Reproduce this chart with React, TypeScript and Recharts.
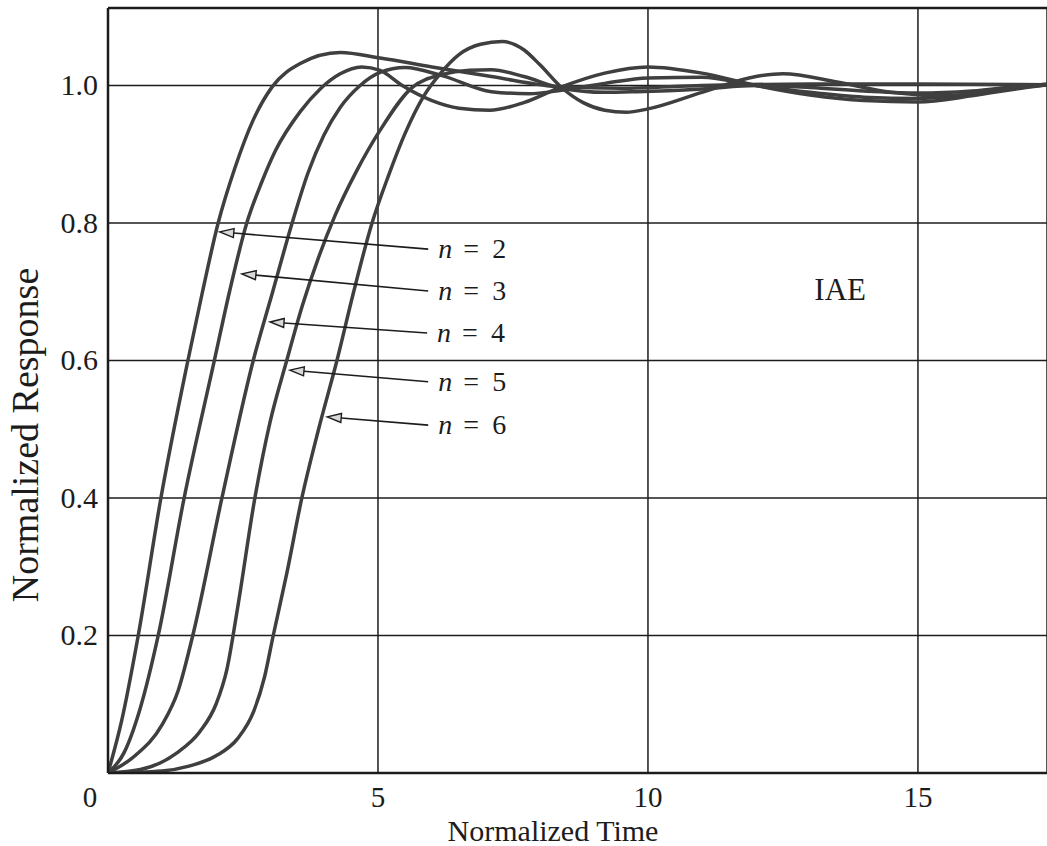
import React from "react";
import {
  LineChart,
  Line,
  XAxis,
  YAxis,
  CartesianGrid,
  ReferenceLine,
  ReferenceDot,
} from "recharts";

// normalized time (t) and response (y), one pair of arrays per order
const tN2 = [0, 0.25, 0.56, 0.98, 1.48, 1.75, 2.04, 2.35, 2.69, 3.04, 3.56, 4.3, 5.04, 6.0, 7.1, 8.4, 9.5, 11, 13, 15, 17.4];
const yN2 = [0, 0.075, 0.2, 0.4, 0.6, 0.7, 0.8, 0.88, 0.95, 0.998, 1.032, 1.048, 1.04, 1.027, 1.013, 0.998, 0.996, 1.0, 1.002, 1.002, 1.001];

const tN3 = [0, 0.3, 0.6, 0.93, 1.41, 1.97, 2.25, 2.57, 2.85, 3.1, 3.56, 3.93, 4.3, 4.7, 5.04, 5.45, 6.0, 6.5, 7.07, 7.7, 8.4, 9.2, 10, 11, 12, 13, 14, 15, 16, 17, 17.4];
const yN3 = [0, 0.03, 0.095, 0.2, 0.4, 0.6, 0.7, 0.8, 0.86, 0.905, 0.962, 0.995, 1.017, 1.027, 1.022, 1.0, 0.978, 0.967, 0.964, 0.975, 0.998, 1.018, 1.027, 1.018, 1.0, 0.986, 0.978, 0.976, 0.985, 0.997, 1.001];

const tN4 = [0, 0.5, 1.0, 1.3, 1.57, 2.11, 2.69, 3.05, 3.41, 3.7, 4.0, 4.3, 4.67, 5.04, 5.5, 6.2, 7.1, 7.8, 8.4, 9.2, 10, 11, 12, 13, 14, 15, 16, 17, 17.4];
const yN4 = [0, 0.025, 0.07, 0.12, 0.2, 0.4, 0.6, 0.7, 0.8, 0.872, 0.928, 0.968, 1.0, 1.019, 1.026, 1.014, 0.991, 0.988, 0.993, 1.003, 1.011, 1.012, 1.0, 0.99, 0.983, 0.981, 0.988, 0.998, 1.001];

const tN5 = [0, 0.6, 1.27, 1.7, 2.0, 2.2, 2.4, 2.72, 3.0, 3.31, 3.6, 3.9, 4.2, 4.6, 5.04, 5.63, 6.2, 6.7, 7.1, 7.7, 8.4, 9.2, 9.8, 11, 12, 13, 14, 15, 16, 17, 17.4];
const yN5 = [0, 0.005, 0.029, 0.06, 0.1, 0.15, 0.24, 0.4, 0.51, 0.6, 0.68, 0.75, 0.81, 0.875, 0.935, 0.997, 1.016, 1.022, 1.023, 1.013, 0.996, 0.99, 0.991, 0.995, 1.0, 0.997, 0.992, 0.989, 0.992, 1.0, 1.002];

const tN6 = [0, 1.0, 1.5, 2.0, 2.4, 2.7, 2.9, 3.06, 3.31, 3.59, 3.9, 4.24, 4.55, 4.89, 5.2, 5.5, 5.85, 6.15, 6.5, 6.9, 7.3, 7.7, 8.0, 8.4, 8.8, 9.2, 9.6, 10, 11, 12, 12.5, 13.5, 14.5, 15.5, 16.5, 17.4];
const yN6 = [0, 0.003, 0.01, 0.025, 0.05, 0.09, 0.14, 0.2, 0.29, 0.4, 0.5, 0.6, 0.7, 0.8, 0.87, 0.93, 0.985, 1.017, 1.045, 1.06, 1.064, 1.052, 1.03, 0.997, 0.975, 0.964, 0.961, 0.966, 0.99, 1.013, 1.017, 1.005, 0.99, 0.985, 0.994, 1.002];

const xTicks = [0, 5, 10, 15];
const yTicks = [0.2, 0.4, 0.6, 0.8, 1.0];

// arrow annotations: label, tail (t, y) near the text, tip (t, y) on the curve
const noteLabels = ["2", "3", "4", "5", "6"];
const noteTail = [
  [5.93, 0.762],
  [5.93, 0.701],
  [5.91, 0.64],
  [5.93, 0.569],
  [5.93, 0.506],
];
const noteTip = [
  [2.07, 0.787],
  [2.48, 0.726],
  [3.0, 0.656],
  [3.37, 0.586],
  [4.06, 0.518],
];

const X_MAX = 17.39;
const Y_MAX = 1.1127;
const FONT = "'Liberation Serif', 'Times New Roman', serif";
const CURVE = "#3f3f3f";
const INK = "#1c1c1c";

const zip = (ts: number[], ys: number[]) => ts.map((t, i) => ({ t, y: ys[i] }));

const curves = [
  { key: "n2", data: zip(tN2, yN2) },
  { key: "n3", data: zip(tN3, yN3) },
  { key: "n4", data: zip(tN4, yN4) },
  { key: "n5", data: zip(tN5, yN5) },
  { key: "n6", data: zip(tN6, yN6) },
];

const XTick = (props: any) => {
  const { x, y, payload } = props;
  const dx = payload.value === 0 ? -18 : 0;
  return (
    <text x={x + dx} y={y + 34} textAnchor="middle" fontFamily={FONT} fontSize={29} fill={INK}>
      {payload.value}
    </text>
  );
};

const YTick = (props: any) => {
  const { x, y, payload } = props;
  return (
    <text x={x - 10} y={y + 10} textAnchor="end" fontFamily={FONT} fontSize={30} fill={INK}>
      {payload.value.toFixed(1)}
    </text>
  );
};

const arrowShape = (label: string) => (props: any) => {
  const { x1, y1, x2, y2 } = props;
  const ang = Math.atan2(y2 - y1, x2 - x1);
  const len = 14;
  const half = 4.5;
  const bx = x2 - len * Math.cos(ang);
  const by = y2 - len * Math.sin(ang);
  const px = -Math.sin(ang) * half;
  const py = Math.cos(ang) * half;
  return (
    <g>
      <line x1={x1} y1={y1} x2={bx} y2={by} stroke={INK} strokeWidth={1.6} />
      <polygon
        points={`${x2},${y2} ${bx + px},${by + py} ${bx - px},${by - py}`}
        fill="#d8d8d8"
        stroke={INK}
        strokeWidth={1.4}
      />
      <text x={x1 + 10} y={y1 + 9} fontFamily={FONT} fontSize={28} fill={INK}>
        <tspan fontStyle="italic">n</tspan>
        <tspan x={x1 + 35}>=</tspan>
        <tspan x={x1 + 64}>{label}</tspan>
      </text>
    </g>
  );
};

const IaeLabel = (props: any) => (
  <text x={props.cx} y={props.cy} textAnchor="middle" dominantBaseline="central" fontFamily={FONT} fontSize={31} fill={INK}>
    IAE
  </text>
);

const XTitle = () => (
  <text x={553} y={841} textAnchor="middle" fontFamily={FONT} fontSize={30} fill={INK}>
    Normalized Time
  </text>
);

const YTitle = () => (
  <text
    transform="translate(38,435) rotate(-90)"
    textAnchor="middle"
    fontFamily={FONT}
    fontSize={38}
    fill={INK}
  >
    Normalized  Response
  </text>
);

export default function App() {
  return (
    <div style={{ position: "absolute", left: 0, top: 0, width: 1047, height: 846, background: "#fff" }}>
      <LineChart width={1047} height={846} margin={{ top: 8, right: 0, bottom: 0, left: 0 }}>
        <CartesianGrid stroke={INK} strokeWidth={1.5} />
        <XAxis
          type="number"
          dataKey="t"
          domain={[0, X_MAX]}
          ticks={xTicks}
          allowDataOverflow
          height={73}
          tickSize={0}
          tickMargin={0}
          tickLine={false}
          axisLine={{ stroke: INK, strokeWidth: 2.5 }}
          tick={<XTick />}
          label={{ content: XTitle }}
        />
        <YAxis
          type="number"
          domain={[0, Y_MAX]}
          ticks={yTicks}
          allowDataOverflow
          width={108}
          tickSize={0}
          tickMargin={0}
          tickLine={false}
          axisLine={{ stroke: INK, strokeWidth: 2.5 }}
          tick={<YTick />}
          label={{ content: YTitle }}
        />
        <ReferenceLine y={Y_MAX} stroke={INK} strokeWidth={2.5} />
        {curves.map((c) => (
          <Line
            key={c.key}
            data={c.data}
            dataKey="y"
            type="monotone"
            stroke={CURVE}
            strokeWidth={3.5}
            dot={false}
            isAnimationActive={false}
          />
        ))}
        {noteLabels.map((lab, i) => (
          <ReferenceLine
            key={lab}
            segment={[
              { x: noteTail[i][0], y: noteTail[i][1] },
              { x: noteTip[i][0], y: noteTip[i][1] },
            ]}
            shape={arrowShape(lab)}
          />
        ))}
        <ReferenceDot x={13.56} y={0.703} r={0} shape={IaeLabel} />
      </LineChart>
    </div>
  );
}
